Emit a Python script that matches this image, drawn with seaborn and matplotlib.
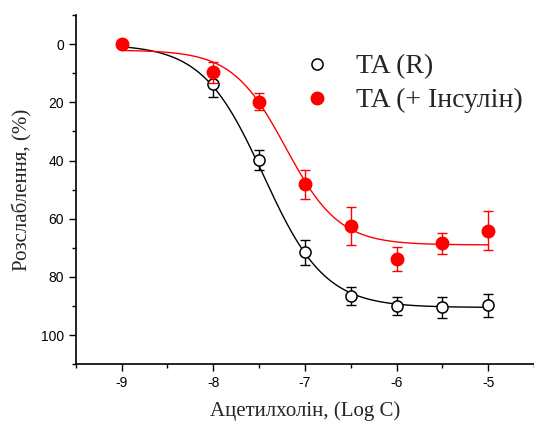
import numpy as np
import pandas as pd
import seaborn as sns
import matplotlib
matplotlib.use("Agg")
import matplotlib.pyplot as plt
from matplotlib.lines import Line2D
from matplotlib.ticker import MultipleLocator

# log concentration of acetylcholine
log_c = [-9, -8, -7.5, -7, -6.5, -6, -5.5, -5]

# TA (R)
ta_r = [0, 13.8, 39.8, 71.5, 86.5, 90.0, 90.5, 89.8]
ta_r_err = [0, 4.5, 3.5, 4.3, 3.0, 3.0, 3.5, 4.0]

# TA (+ insulin)
ta_ins = [0, 9.7, 19.7, 48.2, 62.4, 73.8, 68.5, 64.2]
ta_ins_err = [0, 3.5, 2.8, 5.0, 6.5, 4.0, 3.5, 6.7]

# dose-response fit parameters: bottom, top, logEC50, hill slope
fit_r = (0.0, 90.5, -7.45, 1.3)
fit_ins = (2.0, 69.0, -7.21, 1.49)


def dose_resp(x, p):
  a1, a2, x0, h = p
  return a1 + (a2 - a1) / (1 + 10 ** ((x0 - x) * h))


sns.set_style("ticks")
plt.rcParams['font.family'] = ['Liberation Sans', 'DejaVu Sans']
plt.rcParams['axes.unicode_minus'] = False

fig = plt.figure(figsize=(5.34, 4.21), dpi=100)
ax = fig.add_axes([0.142, 0.135, 0.858, 0.829])

xs = np.linspace(-9, -5, 200)
curve_df = pd.DataFrame({
  'x': np.concatenate([xs, xs]),
  'y': np.concatenate([dose_resp(xs, fit_r), dose_resp(xs, fit_ins)]),
  'group': ['r'] * len(xs) + ['ins'] * len(xs),
})
sns.lineplot(data=curve_df, x='x', y='y', hue='group', palette={'r': 'black', 'ins': 'red'},
             ax=ax, lw=1, legend=False, sort=False)

ax.errorbar(log_c, ta_r, yerr=ta_r_err, fmt='none', ecolor='black', elinewidth=1,
            capsize=3.5, capthick=1, zorder=3)
ax.plot(log_c, ta_r, 'o', ms=8, mfc='white', mec='black', mew=1.1, ls='none', zorder=4)

ax.errorbar(log_c, ta_ins, yerr=ta_ins_err, fmt='none', ecolor='red', elinewidth=1,
            capsize=3.5, capthick=1, zorder=5)
ax.plot(log_c, ta_ins, 'o', ms=9, mfc='red', mec='red', ls='none', zorder=6)

ax.set_xlim(-9.5, -4.5)
ax.set_ylim(110, -10)
ax.xaxis.set_major_locator(MultipleLocator(1))
ax.xaxis.set_minor_locator(MultipleLocator(0.5))
ax.yaxis.set_major_locator(MultipleLocator(20))
ax.yaxis.set_minor_locator(MultipleLocator(10))
ax.set_xticks([-9, -8, -7, -6, -5])
ax.tick_params(which='both', direction='out', width=1, labelsize=10, colors='black')
ax.tick_params(which='major', length=5)
ax.tick_params(which='minor', length=3)

sns.despine(ax=ax)
for s in ['left', 'bottom']:
  ax.spines[s].set_linewidth(1.2)
  ax.spines[s].set_color('black')

ax.set_xlabel('Ацетилхолін, (Log C)', fontsize=15, family=['Liberation Serif'], labelpad=8)
ax.set_ylabel('Розслаблення, (%)', fontsize=15, family=['Liberation Serif'], labelpad=6)

handles = [
  Line2D([], [], marker='o', ls='none', ms=8, mfc='white', mec='black', mew=1.1),
  Line2D([], [], marker='o', ls='none', ms=9, mfc='red', mec='red'),
]
ax.legend(handles, ['TA (R)', 'TA (+ Інсулін)'], loc='upper right', frameon=False,
          prop={'family': 'Liberation Serif', 'size': 20}, handletextpad=0.4,
          labelspacing=0.3, bbox_to_anchor=(1.03, 0.96))

fig.savefig('out.png', dpi=100)
